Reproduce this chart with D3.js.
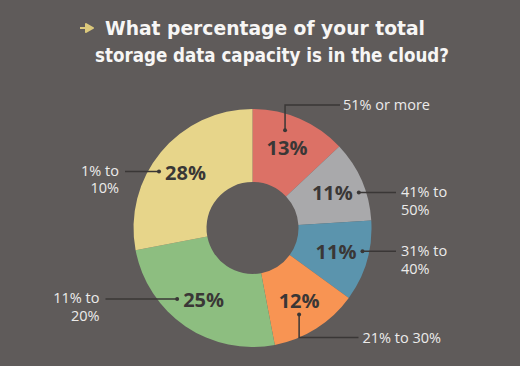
<!DOCTYPE html>
<html><head><meta charset="utf-8">
<script src="https://cdn.jsdelivr.net/npm/d3@7"></script>
<style>html,body{margin:0;padding:0;background:#5f5b5a;}svg{display:block;}</style>
</head><body>
<svg id="chart" width="520" height="366"></svg>
<script>
// ---- data ----
const titleLines = ["What percentage of your total", "storage data capacity is in the cloud?"];
const categories = ["51% or more", "41% to 50%", "31% to 40%", "21% to 30%", "11% to 20%", "1% to 10%"];
const categoryLines = [["51% or more"], ["41% to", "50%"], ["31% to", "40%"], ["21% to 30%"], ["11% to", "20%"], ["1% to", "10%"]];
const values = [13, 11, 11, 12, 25, 28];
const valueLabels = ["13%", "11%", "11%", "12%", "25%", "28%"];

// ---- styles / layout ----
const palette = ["#dc7166", "#a9a9ab", "#5b94ad", "#f89453", "#8dbe80", "#e7d58a"];
const leaderDir = ["up", "right", "right", "down", "left", "left"];
const leaderReach = [123, 143.5, 143.5, 109.5, 147, 127.5]; // elbow distance / end offset from centre
const leaderEnd = [87.5, 0, 0, 106, 0, 0];
const W = 520, H = 366, cx = 252.5, cy = 228, R = 119, r0 = 46;
const bg = "#5f5b5a", dark = "#3a3736", light = "#ecebea";

const svg = d3.select("#chart");
svg.append("rect").attr("width", W).attr("height", H).attr("fill", bg);

// title
const tg = svg.append("g");
tg.append("path")
  .attr("d", "M80,28 L88,28 M86,24 L93,28 L86,32 Z")
  .attr("stroke", "#dcc97c").attr("stroke-width", 2).attr("fill", "#dcc97c").attr("stroke-linejoin", "round");
const titleX = [105, 95], titleY = [35, 62], titleW = [320, 354];
titleLines.forEach((t, i) => {
  tg.append("text").text(t)
    .attr("x", titleX[i]).attr("y", titleY[i])
    .attr("textLength", titleW[i]).attr("lengthAdjust", "spacingAndGlyphs")
    .attr("font-family", "'DejaVu Sans Condensed','DejaVu Sans',sans-serif")
    .attr("font-weight", "bold").attr("font-size", 19.5).attr("fill", "#f7f6f5");
});

// donut
const pie = d3.pie().sort(null).value(d => d)(values);
const arc = d3.arc().innerRadius(r0).outerRadius(R);
const labelArc = d3.arc().innerRadius(87).outerRadius(87);
const g = svg.append("g").attr("transform", `translate(${cx},${cy})`);
g.selectAll("path.slice").data(pie).join("path")
  .attr("class", "slice").attr("d", arc).attr("fill", (d, i) => palette[i]);

const lineG = g.append("g");
const labG = g.append("g");
pie.forEach((d, i) => {
  const [lx, ly] = labelArc.centroid(d);
  const t = labG.append("text").text(valueLabels[i])
    .attr("x", lx).attr("y", ly + 7).attr("text-anchor", "middle")
    .attr("font-family", "'Open Sans',sans-serif").attr("font-weight", "bold")
    .attr("font-size", 20).attr("fill", dark);
  const w = t.node().getComputedTextLength();
  let dot, pts, tx, ty, anchor;
  const dir = leaderDir[i];
  if (dir === "up") {
    dot = [lx - 2, ly - 18];
    pts = [dot, [dot[0], -leaderReach[i]], [leaderEnd[i], -leaderReach[i]]];
    tx = leaderEnd[i] + 3; ty = -leaderReach[i] + 5; anchor = "start";
  } else if (dir === "down") {
    dot = [lx, ly + 13];
    pts = [dot, [dot[0], leaderReach[i]], [leaderEnd[i], leaderReach[i]]];
    tx = leaderEnd[i] + 4; ty = leaderReach[i] + 5.5; anchor = "start";
  } else if (dir === "right") {
    dot = [lx + w / 2 + 6, ly - 1];
    pts = [dot, [leaderReach[i], dot[1]]];
    tx = leaderReach[i] + 5; ty = dot[1] + 5; anchor = "start";
  } else {
    dot = [lx - w / 2 - 6, ly - 1];
    pts = [dot, [-leaderReach[i], dot[1]]];
    tx = -leaderReach[i] - 6; ty = dot[1] + 4.5; anchor = "end";
  }
  lineG.append("path").attr("d", d3.line()(pts))
    .attr("fill", "none").attr("stroke", dark).attr("stroke-width", 1.5);
  lineG.append("circle").attr("cx", dot[0]).attr("cy", dot[1]).attr("r", 2).attr("fill", dark);
  const ot = labG.append("text").attr("x", tx).attr("y", ty).attr("text-anchor", anchor)
    .attr("font-family", "'Open Sans',sans-serif").attr("font-size", 14.5).attr("fill", light);
  categoryLines[i].forEach((s, k) => {
    ot.append("tspan").attr("x", tx).attr("dy", k === 0 ? 0 : 17.4).text(s);
  });
});
</script>
</body></html>
